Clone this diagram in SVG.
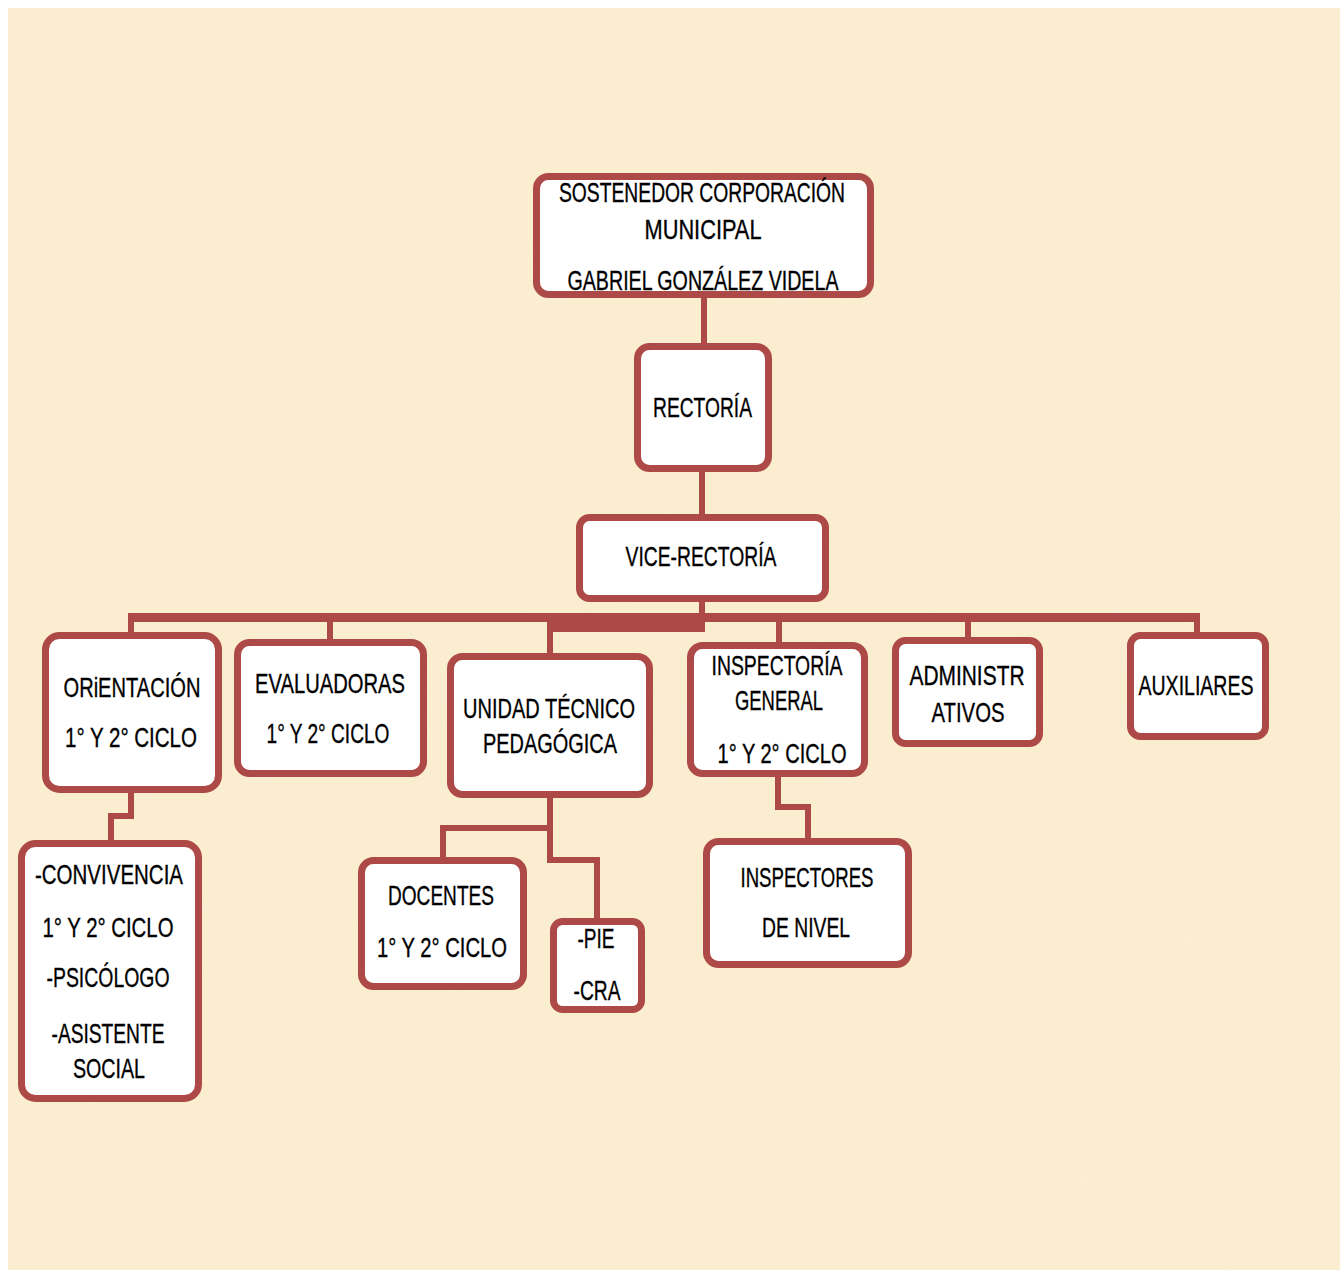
<svg xmlns="http://www.w3.org/2000/svg" width="1340" height="1270" viewBox="0 0 1340 1270">
<style>
.box{fill:#ffffff;stroke:#ad4a47;stroke-width:7}
.ln{fill:none;stroke:#ad4a47;stroke-width:6;stroke-linejoin:miter;stroke-linecap:butt}
.bar{fill:#ad4a47}
text{font-family:"Liberation Sans",Arial,sans-serif;font-size:28px;fill:#000;stroke:#000;stroke-width:0.35;text-anchor:middle}
</style>
<defs>
<filter id="tex" x="0" y="0" width="100%" height="100%">
<feTurbulence type="fractalNoise" baseFrequency="0.012 0.03" numOctaves="3" seed="4"/>
<feColorMatrix type="matrix" values="0 0 0 0 0.93  0 0 0 0 0.85  0 0 0 0 0.65  0 0 0 1.2 -0.45"/>
</filter>
</defs>
<rect x="0" y="0" width="1340" height="1270" fill="#ffffff"/>
<rect x="8" y="8" width="1332" height="1262" fill="#fbedd0"/>
<rect x="8" y="8" width="1332" height="1262" filter="url(#tex)" opacity="0.35"/>

<g id="connectors">
<path class="ln" d="M704 298 V345"/>
<path class="ln" d="M702 470 V516"/>
<path class="ln" d="M702 600 V618"/>
<rect class="bar" x="128" y="613" width="1072" height="9"/>
<rect class="bar" x="548" y="613" width="157" height="19"/>
<path class="ln" d="M131 620 V634"/>
<path class="ln" d="M330 620 V641"/>
<path class="ln" d="M550 620 V655"/>
<path class="ln" d="M779 620 V644"/>
<path class="ln" d="M968 620 V639"/>
<path class="ln" d="M1197 620 V634"/>
<path class="ln" d="M131 791 V816 H111 V842"/>
<path class="ln" d="M550 796 V860 H597 V920"/>
<path class="ln" d="M550 828 H443 V859"/>
<path class="ln" d="M778 775 V807 H808 V840"/>
</g>

<g id="sostenedor">
<rect class="box" x="536.5" y="176.5" width="334" height="118" rx="12"/>
<text x="702" y="202" textLength="286" lengthAdjust="spacingAndGlyphs">SOSTENEDOR CORPORACIÓN</text>
<text x="703" y="239" textLength="117" lengthAdjust="spacingAndGlyphs">MUNICIPAL</text>
<text x="703" y="290" textLength="271" lengthAdjust="spacingAndGlyphs">GABRIEL GONZÁLEZ VIDELA</text>
</g>
<g id="rectoria">
<rect class="box" x="637.5" y="346.5" width="131" height="122" rx="12"/>
<text x="702.5" y="417" textLength="99" lengthAdjust="spacingAndGlyphs">RECTORÍA</text>
</g>
<g id="vicerrectoria">
<rect class="box" x="579.5" y="517.5" width="246" height="81" rx="10"/>
<text x="701" y="566" textLength="151" lengthAdjust="spacingAndGlyphs">VICE-RECTORÍA</text>
</g>
<g id="orientacion">
<rect class="box" x="45.5" y="635.5" width="173" height="154" rx="14"/>
<text x="132" y="697" textLength="137" lengthAdjust="spacingAndGlyphs">ORiENTACIÓN</text>
<text x="131" y="747" textLength="132" lengthAdjust="spacingAndGlyphs">1° Y 2° CICLO</text>
</g>
<g id="evaluadoras">
<rect class="box" x="237.5" y="642.5" width="186" height="131" rx="12"/>
<text x="330" y="693" textLength="150" lengthAdjust="spacingAndGlyphs">EVALUADORAS</text>
<text x="328" y="743" textLength="123" lengthAdjust="spacingAndGlyphs">1° Y 2° CICLO</text>
</g>
<g id="utp">
<rect class="box" x="450.5" y="656.5" width="199" height="138" rx="12"/>
<text x="549" y="718" textLength="172" lengthAdjust="spacingAndGlyphs">UNIDAD TÉCNICO</text>
<text x="550" y="753" textLength="134" lengthAdjust="spacingAndGlyphs">PEDAGÓGICA</text>
</g>
<g id="inspectoria">
<rect class="box" x="690.5" y="645.5" width="174" height="128" rx="12"/>
<text x="777" y="675" textLength="131" lengthAdjust="spacingAndGlyphs">INSPECTORÍA</text>
<text x="779" y="710" textLength="88" lengthAdjust="spacingAndGlyphs">GENERAL</text>
<text x="782" y="763" textLength="129" lengthAdjust="spacingAndGlyphs">1° Y 2° CICLO</text>
</g>
<g id="administrativos">
<rect class="box" x="895.5" y="640.5" width="144" height="103" rx="10"/>
<text x="967" y="685" textLength="115" lengthAdjust="spacingAndGlyphs">ADMINISTR</text>
<text x="968" y="722" textLength="73" lengthAdjust="spacingAndGlyphs">ATIVOS</text>
</g>
<g id="auxiliares">
<rect class="box" x="1130.5" y="635.5" width="135" height="101" rx="10"/>
<text x="1196" y="695" textLength="115" lengthAdjust="spacingAndGlyphs">AUXILIARES</text>
</g>
<g id="convivencia">
<rect class="box" x="21.5" y="843.5" width="177" height="255" rx="14"/>
<text x="109" y="884" textLength="148" lengthAdjust="spacingAndGlyphs">-CONVIVENCIA</text>
<text x="108" y="937" textLength="131" lengthAdjust="spacingAndGlyphs">1° Y 2° CICLO</text>
<text x="108" y="987" textLength="123" lengthAdjust="spacingAndGlyphs">-PSICÓLOGO</text>
<text x="108" y="1043" textLength="113" lengthAdjust="spacingAndGlyphs">-ASISTENTE</text>
<text x="109" y="1078" textLength="72" lengthAdjust="spacingAndGlyphs">SOCIAL</text>
</g>
<g id="docentes">
<rect class="box" x="361.5" y="860.5" width="162" height="126" rx="12"/>
<text x="441" y="905" textLength="106" lengthAdjust="spacingAndGlyphs">DOCENTES</text>
<text x="442" y="957" textLength="130" lengthAdjust="spacingAndGlyphs">1° Y 2° CICLO</text>
</g>
<g id="pie-cra">
<rect class="box" x="553.5" y="921.5" width="88" height="88" rx="9"/>
<text x="596" y="948" textLength="37" lengthAdjust="spacingAndGlyphs">-PIE</text>
<text x="597" y="1000" textLength="47" lengthAdjust="spacingAndGlyphs">-CRA</text>
</g>
<g id="inspectores">
<rect class="box" x="706.5" y="841.5" width="202" height="123" rx="12"/>
<text x="807" y="887" textLength="133" lengthAdjust="spacingAndGlyphs">INSPECTORES</text>
<text x="806" y="937" textLength="88" lengthAdjust="spacingAndGlyphs">DE NIVEL</text>
</g>
</svg>
